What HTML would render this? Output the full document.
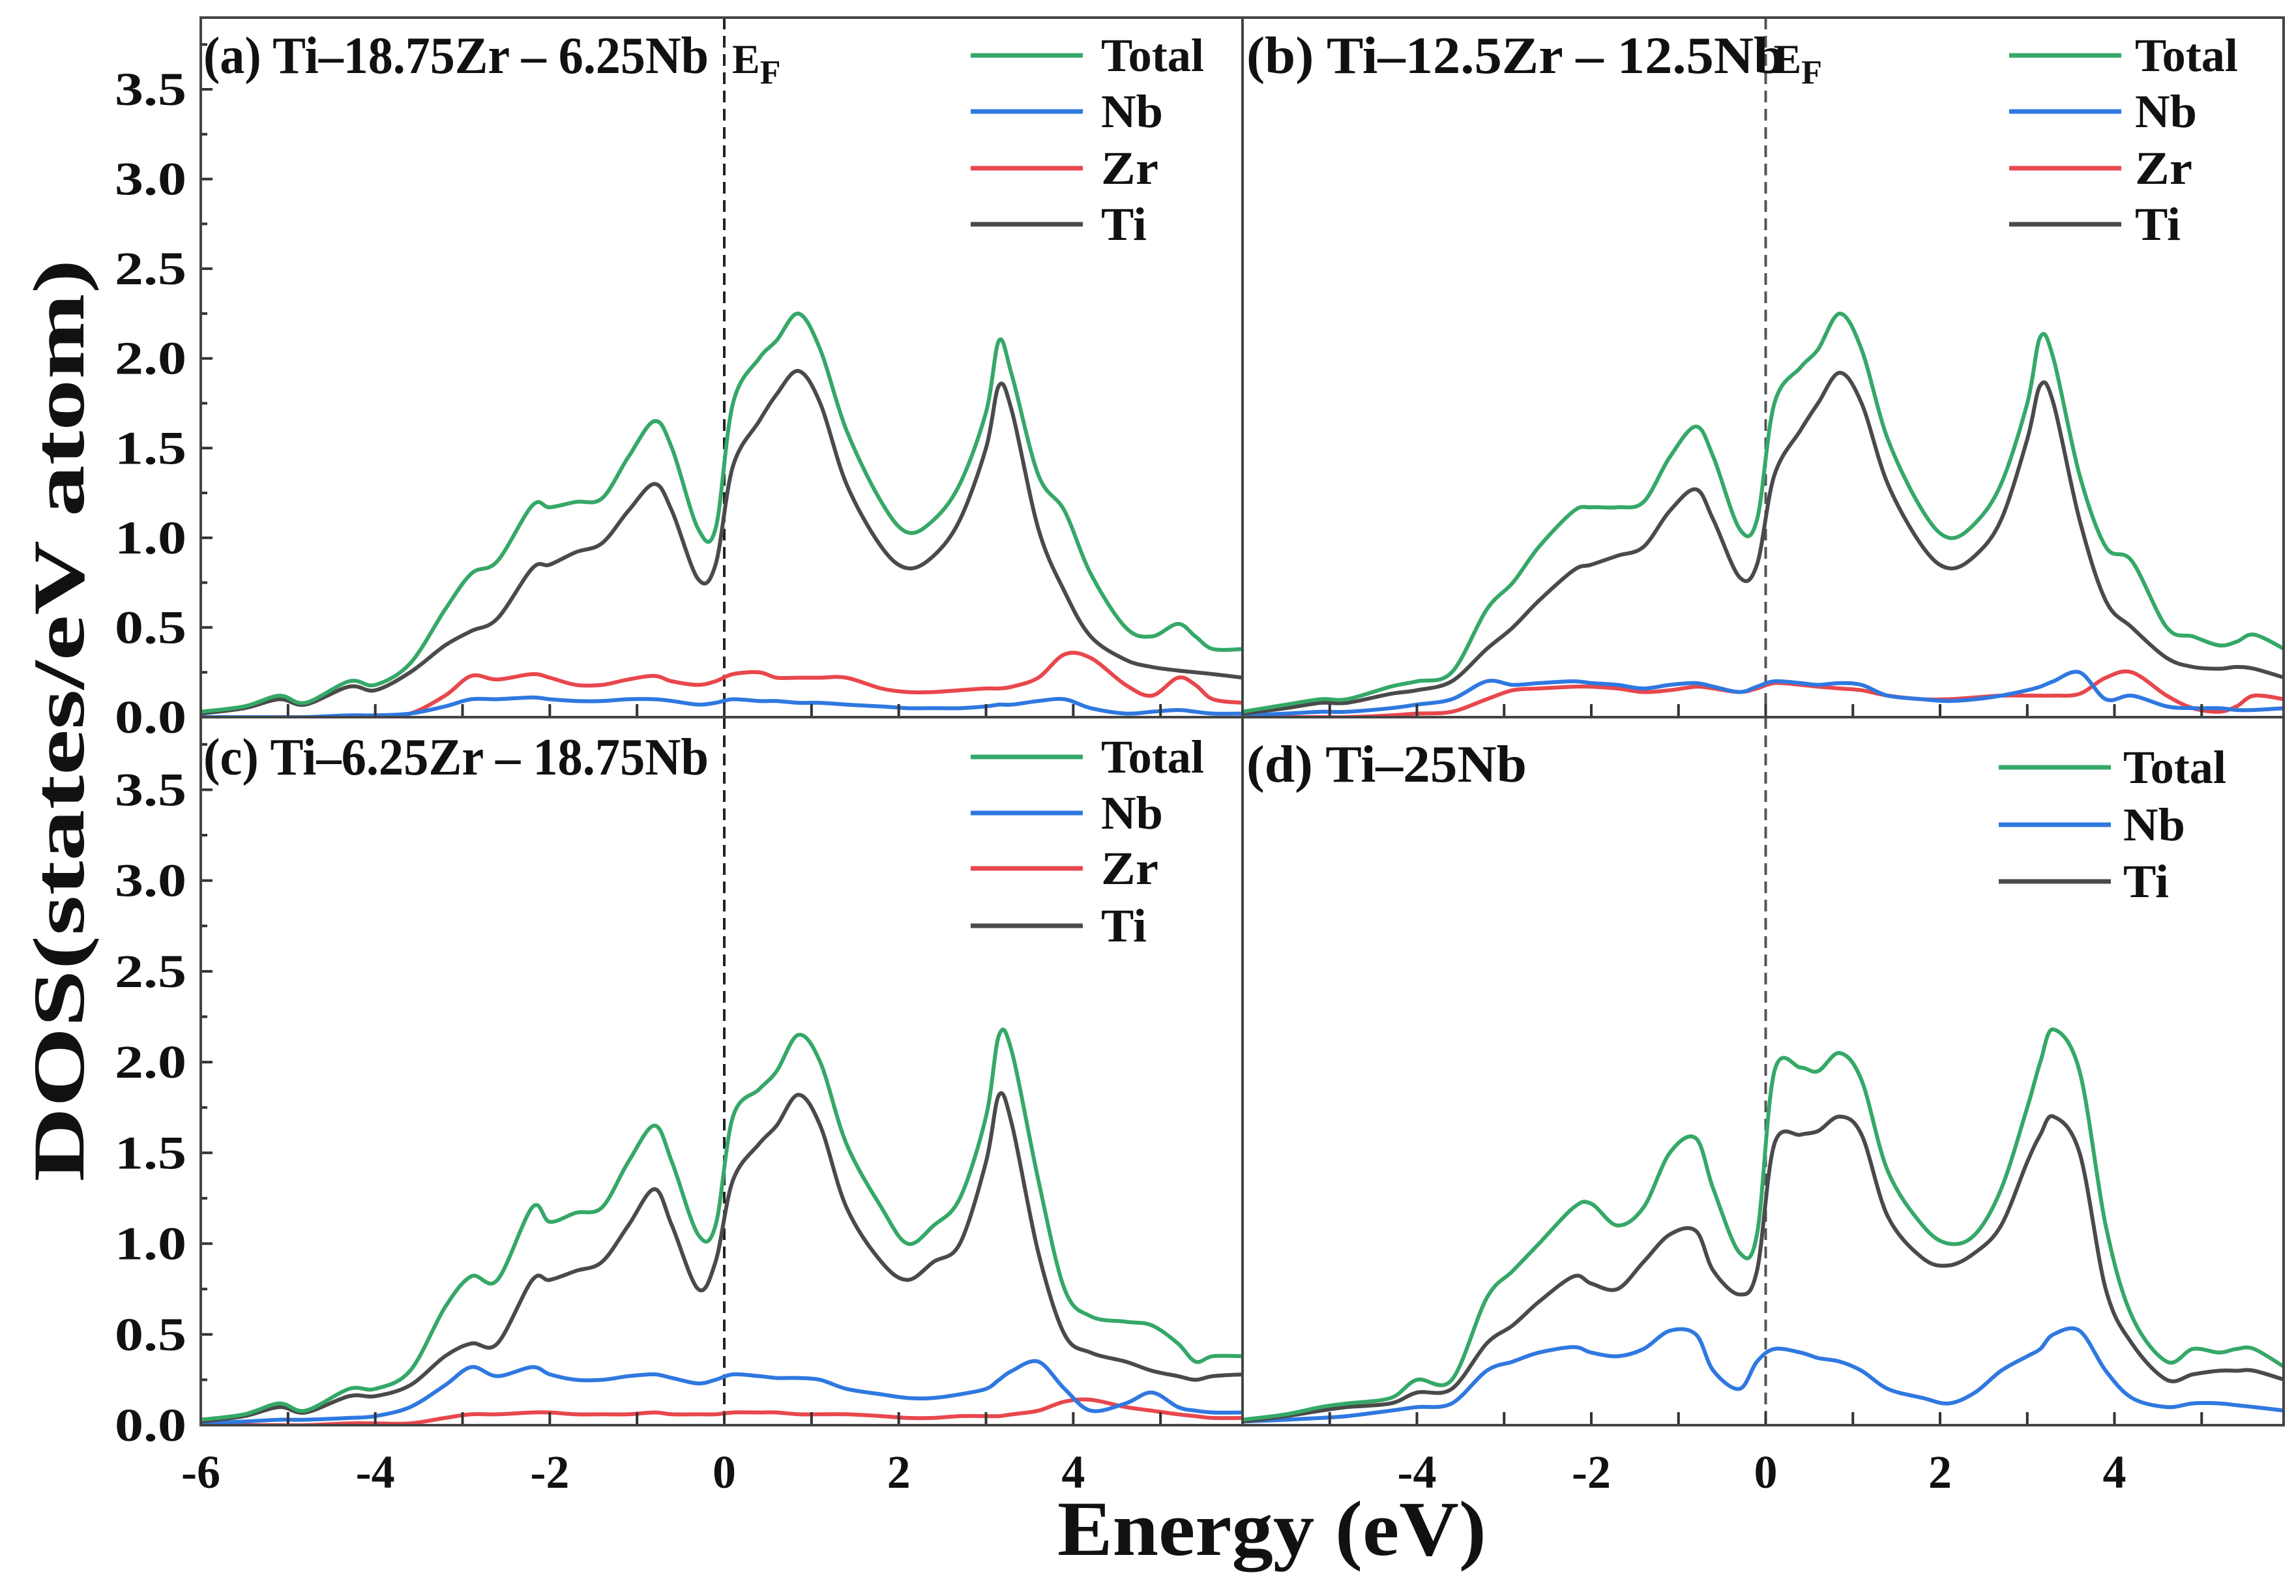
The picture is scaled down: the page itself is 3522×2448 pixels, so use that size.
<!DOCTYPE html>
<html><head><meta charset="utf-8">
<style>
html,body{margin:0;padding:0;background:#fff;}
svg{display:block;}
text{font-family:"Liberation Serif",serif;font-weight:bold;fill:#111;}
</style></head>
<body>
<svg id="chart" width="3522" height="2448" viewBox="0 0 3522 2448" xmlns="http://www.w3.org/2000/svg"></svg>
<script>
const energies=[-6,-5.5,-5.1,-4.8,-4.3,-4.0,-3.6,-3.2,-2.9,-2.6,-2.2,-2.0,-1.7,-1.4,-1.1,-0.8,-0.6,-0.3,-0.1,0.1,0.4,0.6,0.85,1.1,1.4,1.8,2.1,2.4,2.7,3.0,3.15,3.3,3.6,3.9,4.2,4.6,4.9,5.2,5.4,5.6,5.95];
const aTotal=[0.03,0.06,0.12,0.08,0.2,0.18,0.3,0.6,0.8,0.87,1.18,1.17,1.2,1.22,1.45,1.65,1.5,1.05,1.05,1.75,2.0,2.1,2.25,2.05,1.6,1.2,1.03,1.1,1.3,1.7,2.1,1.9,1.35,1.15,0.8,0.5,0.45,0.52,0.45,0.38,0.38];
const aTi=[0.02,0.05,0.1,0.07,0.17,0.15,0.25,0.4,0.48,0.55,0.83,0.85,0.92,0.97,1.15,1.3,1.15,0.77,0.85,1.4,1.65,1.8,1.93,1.75,1.3,0.95,0.83,0.9,1.1,1.5,1.85,1.7,1.05,0.7,0.45,0.32,0.28,0.26,0.25,0.24,0.22];
const aZr=[0,0,0,0,0,0,0.02,0.12,0.23,0.21,0.24,0.22,0.18,0.18,0.21,0.23,0.2,0.18,0.2,0.24,0.25,0.22,0.22,0.22,0.22,0.16,0.14,0.14,0.15,0.16,0.16,0.17,0.22,0.35,0.33,0.18,0.12,0.22,0.18,0.1,0.08];
const aNb=[0,0,0,0,0.01,0.01,0.02,0.06,0.1,0.1,0.11,0.1,0.09,0.09,0.1,0.1,0.09,0.07,0.08,0.1,0.09,0.09,0.08,0.08,0.07,0.06,0.05,0.05,0.05,0.06,0.07,0.07,0.09,0.1,0.05,0.02,0.03,0.04,0.03,0.02,0.02];
const bTotal=[0.03,0.07,0.1,0.1,0.17,0.2,0.25,0.6,0.75,0.95,1.15,1.17,1.17,1.2,1.45,1.62,1.45,1.05,1.1,1.75,1.95,2.05,2.25,2.05,1.55,1.15,1.0,1.08,1.3,1.75,2.12,2.0,1.35,0.95,0.87,0.5,0.45,0.4,0.42,0.46,0.38];
const bTi=[0.02,0.05,0.08,0.08,0.13,0.15,0.2,0.38,0.5,0.65,0.82,0.85,0.9,0.95,1.15,1.27,1.1,0.78,0.85,1.35,1.6,1.75,1.92,1.75,1.3,0.95,0.83,0.9,1.1,1.55,1.85,1.75,1.1,0.65,0.5,0.33,0.28,0.27,0.28,0.27,0.22];
const bNb=[0.01,0.02,0.03,0.03,0.05,0.07,0.1,0.2,0.18,0.19,0.2,0.19,0.18,0.16,0.18,0.19,0.17,0.14,0.17,0.2,0.19,0.18,0.19,0.18,0.12,0.1,0.09,0.1,0.12,0.15,0.17,0.2,0.25,0.1,0.12,0.06,0.05,0.05,0.04,0.04,0.05];
const bZr=[0,0,0,0,0.01,0.02,0.03,0.1,0.15,0.16,0.17,0.17,0.16,0.14,0.15,0.17,0.16,0.14,0.16,0.19,0.18,0.17,0.16,0.15,0.12,0.1,0.1,0.11,0.12,0.12,0.12,0.12,0.13,0.22,0.25,0.12,0.05,0.03,0.06,0.12,0.1];
const cTotal=[0.03,0.06,0.12,0.08,0.2,0.2,0.3,0.65,0.82,0.8,1.2,1.12,1.17,1.2,1.45,1.65,1.45,1.05,1.1,1.7,1.85,1.95,2.15,2.0,1.55,1.2,1.0,1.1,1.25,1.7,2.15,2.05,1.35,0.75,0.6,0.57,0.55,0.45,0.35,0.38,0.38];
const cTi=[0.02,0.05,0.1,0.07,0.16,0.16,0.22,0.38,0.45,0.45,0.8,0.8,0.85,0.9,1.1,1.3,1.1,0.75,0.9,1.35,1.55,1.65,1.82,1.65,1.2,0.9,0.8,0.9,1.0,1.45,1.82,1.65,0.95,0.5,0.4,0.35,0.3,0.27,0.25,0.27,0.28];
const cNb=[0.01,0.02,0.03,0.03,0.04,0.05,0.1,0.22,0.32,0.27,0.32,0.28,0.25,0.25,0.27,0.28,0.26,0.23,0.25,0.28,0.27,0.26,0.26,0.25,0.2,0.17,0.15,0.15,0.17,0.2,0.25,0.3,0.35,0.2,0.08,0.12,0.18,0.1,0.08,0.07,0.07];
const cZr=[0,0,0,0,0.01,0.01,0.01,0.04,0.06,0.06,0.07,0.07,0.06,0.06,0.06,0.07,0.06,0.06,0.06,0.07,0.07,0.07,0.06,0.06,0.06,0.05,0.04,0.04,0.05,0.05,0.05,0.06,0.08,0.13,0.14,0.1,0.08,0.06,0.05,0.04,0.04];
const dTotal=[0.03,0.06,0.1,0.12,0.15,0.25,0.25,0.7,0.85,1.0,1.2,1.22,1.1,1.2,1.5,1.58,1.3,0.95,1.05,1.95,1.97,1.95,2.05,1.9,1.4,1.1,1.0,1.05,1.3,1.75,2.0,2.18,1.95,1.1,0.6,0.35,0.42,0.4,0.42,0.42,0.32];
const dTi=[0.02,0.05,0.08,0.1,0.12,0.18,0.2,0.45,0.55,0.68,0.82,0.78,0.75,0.9,1.05,1.07,0.85,0.72,0.85,1.55,1.6,1.62,1.7,1.6,1.15,0.92,0.88,0.95,1.1,1.45,1.6,1.7,1.5,0.75,0.45,0.25,0.28,0.3,0.3,0.3,0.25];
const dNb=[0.02,0.03,0.04,0.05,0.08,0.1,0.12,0.3,0.35,0.4,0.43,0.4,0.38,0.42,0.52,0.5,0.3,0.2,0.35,0.42,0.4,0.37,0.35,0.3,0.2,0.15,0.12,0.18,0.3,0.38,0.42,0.5,0.52,0.3,0.15,0.1,0.12,0.12,0.11,0.1,0.08];
const yTicks=["0.0","0.5","1.0","1.5","2.0","2.5","3.0","3.5"];
const xTicks=["-6","-4","-2","0","2","4"];
const panelTitles=["(a) Ti–18.75Zr – 6.25Nb","(b) Ti–12.5Zr – 12.5Nb","(c) Ti–6.25Zr – 18.75Nb","(d) Ti–25Nb"];

const NS="http://www.w3.org/2000/svg";
const svg=document.getElementById('chart');
function mk(tag,attrs,parent){const e=document.createElementNS(NS,tag);for(const k in attrs)e.setAttribute(k,attrs[k]);(parent||svg).appendChild(e);return e;}
const COL={Total:"#35a868",Nb:"#2f78e0",Zr:"#e8474c",Ti:"#4a4a4a"};
const X0=[308,1906], X1=[1906,3503], Y0=[1100,2186], YT=[27,1100];
const EMIN=-6, EMAX=5.94, VMAX=3.9;
function xs(p,e){const c=p%2;return X0[c]+(e-EMIN)/(EMAX-EMIN)*(X1[c]-X0[c]);}
function ys(p,v){const r=Math.floor(p/2);return Y0[r]-v/VMAX*(Y0[r]-YT[r]);}
function smooth(pts){let d="M"+pts[0][0].toFixed(1)+","+pts[0][1].toFixed(1);
 for(let i=0;i<pts.length-1;i++){const p0=pts[i-1]||pts[i],p1=pts[i],p2=pts[i+1],p3=pts[i+2]||p2;
  const c1=[p1[0]+(p2[0]-p0[0])/6,p1[1]+(p2[1]-p0[1])/6],c2=[p2[0]-(p3[0]-p1[0])/6,p2[1]-(p3[1]-p1[1])/6];
  d+="C"+c1[0].toFixed(1)+","+c1[1].toFixed(1)+" "+c2[0].toFixed(1)+","+c2[1].toFixed(1)+" "+p2[0].toFixed(1)+","+p2[1].toFixed(1);}
 return d;}

const panels=[
 {series:[["Zr",aZr],["Nb",aNb],["Ti",aTi],["Total",aTotal]],legend:["Total","Nb","Zr","Ti"]},
 {series:[["Zr",bZr],["Nb",bNb],["Ti",bTi],["Total",bTotal]],legend:["Total","Nb","Zr","Ti"]},
 {series:[["Zr",cZr],["Nb",cNb],["Ti",cTi],["Total",cTotal]],legend:["Total","Nb","Zr","Ti"]},
 {series:[["Nb",dNb],["Ti",dTi],["Total",dTotal]],legend:["Total","Nb","Ti"]}
];
const legendPos=[
 {lx:1489,tx:1689,y:[85,171,258,344]},
 {lx:3082,tx:3275,y:[85,171,258,344]},
 {lx:1489,tx:1689,y:[1161,1247,1332,1420]},
 {lx:3066,tx:3257,y:[1177,1265,1352]}
];
const titlePos=[[312,112,775],[1912,112,825],[312,1188,775],[1912,1199,430]];
const legendW={Total:158,Nb:95,Zr:88,Ti:70};

panels.forEach((P,p)=>{
 const g=mk('g',{});
 
 
 const c=p%2,r=Math.floor(p/2);
 const cp=mk('clipPath',{id:'clip'+p},g);
 mk('rect',{x:X0[c],y:YT[r],width:X1[c]-X0[c],height:Y0[r]-YT[r]},cp);
 const ef=mk('line',{x1:xs(p,0),x2:xs(p,0),y1:YT[r],y2:Y0[r],stroke:c?"#555":"#222","stroke-width":4,"stroke-dasharray":"18,10"},g);
 
 
 P.series.forEach(([name,vals])=>{
  const pts=energies.map((e,i)=>[xs(p,e),ys(p,vals[i])]);
  const path=mk('path',{d:smooth(pts),fill:"none",stroke:COL[name],"stroke-width":6,"stroke-linejoin":"round","clip-path":"url(#clip"+p+")"},g);
  
  
 });
 for(let e=-6;e<=5;e++){
  const t=mk('line',{x1:xs(p,e),x2:xs(p,e),y1:Y0[r],y2:Y0[r]-20,stroke:"#333","stroke-width":4},g);
  
  
 }
 if(c===0){
  for(let v=0;v<=3.75;v+=0.25){
   const t=mk('line',{x1:X0[0],x2:X0[0]+(v*2%1===0?18:10),y1:ys(p,v),y2:ys(p,v),stroke:"#333","stroke-width":4},g);
   
   
  }
  yTicks.forEach((lab,i)=>{
   const t=mk('text',{x:286,y:ys(p,i*0.5)+24,"text-anchor":"end","font-size":72,textLength:110,lengthAdjust:"spacingAndGlyphs"},g);
   t.textContent=lab;
   
   
  });
 }
 const fr=mk('rect',{x:X0[c],y:YT[r],width:X1[c]-X0[c],height:Y0[r]-YT[r],fill:"none",stroke:"#444","stroke-width":4},g);
 
 
 const tp=titlePos[p];
 const tt=mk('text',{x:tp[0],y:tp[1],"font-size":80,textLength:tp[2],lengthAdjust:"spacingAndGlyphs"},g);
 tt.textContent=panelTitles[p];
 
 
 if(r===0){
  const el=mk('text',{x:xs(p,0)+12,y:112,"font-size":64},g);
  
  
  el.textContent="E";
  const sub=mk('tspan',{"font-size":52,dy:16},el);
  sub.textContent="F";
 }
 const L=legendPos[p];
 const lg=mk('g',{},g);
 
 
 P.legend.forEach((name,i)=>{
  const ln=mk('line',{x1:L.lx,x2:L.lx+172,y1:L.y[i],y2:L.y[i],stroke:COL[name],"stroke-width":7},lg);
  
  
  const tx=mk('text',{x:L.tx,y:L.y[i]+24,"font-size":72,textLength:legendW[name],lengthAdjust:"spacingAndGlyphs"},lg);
  tx.textContent=name;
  
  
 });
});
[0,1].forEach(c=>{
 xTicks.forEach((lab,i)=>{
  if(c===1&&i===0)return;
  const e=parseFloat(lab);
  const t=mk('text',{x:xs(2+c,e),y:2282,"text-anchor":"middle","font-size":72});
  t.textContent=lab;
  
  
 });
});
const xt=mk('text',{x:1951,y:2385,"text-anchor":"middle","font-size":120,textLength:658,lengthAdjust:"spacingAndGlyphs"});
xt.textContent="Energy (eV)";


const yt=mk('text',{x:0,y:0,"text-anchor":"middle","font-size":112,textLength:1415,lengthAdjust:"spacingAndGlyphs",transform:"translate(128,1105) rotate(-90)"});
yt.textContent="DOS(states/eV atom)";


</script>
</body></html>
